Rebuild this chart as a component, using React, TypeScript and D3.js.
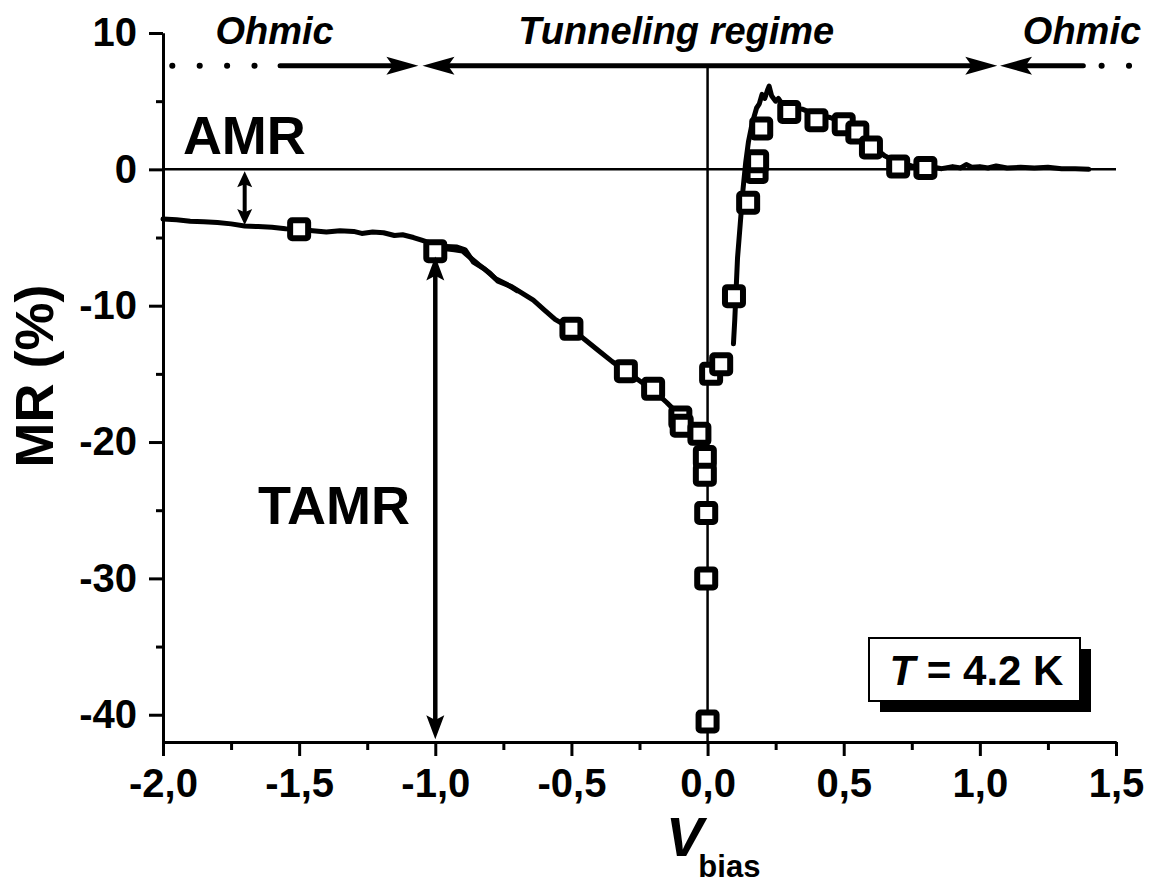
import React, { useEffect, useRef } from "react";
import * as d3 from "d3";

type Pt = [number, number];

// measured MR curve (V, MR %)
const sweepLeft: Pt[] = [
  [-2.0, -3.65], [-1.95, -3.7], [-1.9, -3.8], [-1.85, -3.85], [-1.8, -3.9],
  [-1.75, -4.0], [-1.7, -4.15], [-1.65, -4.2], [-1.6, -4.25], [-1.55, -4.35],
  [-1.5, -4.4], [-1.45, -4.5], [-1.4, -4.6], [-1.35, -4.5], [-1.3, -4.55],
  [-1.27, -4.7], [-1.23, -4.6], [-1.19, -4.65], [-1.15, -4.85], [-1.12, -4.8],
  [-1.08, -5.0], [-1.05, -5.2], [-1.02, -5.4], [-1.0, -5.6], [-0.97, -5.8],
  [-0.93, -5.9], [-0.9, -6.0], [-0.87, -6.5], [-0.84, -7.0], [-0.8, -7.6],
  [-0.77, -8.2], [-0.72, -8.6], [-0.68, -9.1], [-0.64, -9.6], [-0.6, -10.3],
  [-0.56, -11.0], [-0.5, -11.7], [-0.45, -12.5], [-0.4, -13.3], [-0.35, -14.1],
  [-0.3, -14.8], [-0.25, -15.5], [-0.2, -16.2], [-0.15, -17.1], [-0.1, -18.1],
  [-0.06, -18.8], [-0.03, -19.3],
];

const sweepLeftB: Pt[] = [
  [-1.0, -5.7], [-0.96, -5.65], [-0.92, -5.7], [-0.89, -5.9], [-0.86, -6.8],
  [-0.82, -7.3], [-0.78, -8.0], [-0.74, -8.4], [-0.7, -8.9],
];

const sweepRight: Pt[] = [
  [0.095, -12.8], [0.1, -11.0], [0.11, -6.5], [0.12, -4.0], [0.13, -1.5],
  [0.14, 0.5], [0.15, 2.0], [0.16, 3.0], [0.17, 3.8], [0.18, 4.5],
  [0.19, 4.8], [0.2, 5.5], [0.21, 5.2], [0.22, 5.8], [0.226, 6.1],
  [0.235, 5.4], [0.25, 5.0], [0.26, 5.2], [0.28, 4.6], [0.3, 4.5],
  [0.35, 4.4], [0.4, 4.0], [0.45, 3.8], [0.5, 3.4], [0.55, 2.7],
  [0.6, 1.8], [0.65, 1.0], [0.7, 0.5], [0.75, 0.25], [0.8, 0.1],
  [0.83, 0.15], [0.86, 0.05], [0.9, 0.2], [0.93, 0.1], [0.95, 0.35],
  [0.97, 0.15], [1.0, 0.2], [1.03, 0.1], [1.06, 0.25], [1.1, 0.1],
  [1.15, 0.15], [1.2, 0.1], [1.25, 0.15], [1.3, 0.05], [1.35, 0.05],
  [1.4, 0.0],
];

// square symbols
const markers: Pt[] = [
  [-1.5, -4.4], [-1.0, -6.0], [-0.5, -11.7], [-0.3, -14.8], [-0.2, -16.1],
  [-0.1, -18.2], [-0.095, -18.8], [-0.03, -19.4], [-0.01, -21.1], [-0.01, -22.4],
  [-0.005, -25.2], [-0.005, -30.0], [0.0, -40.5], [0.013, -15.0], [0.05, -14.3],
  [0.097, -9.3], [0.149, -2.45], [0.18, -0.2], [0.182, 0.6], [0.197, 3.0],
  [0.3, 4.2], [0.4, 3.6], [0.5, 3.3], [0.55, 2.7], [0.6, 1.6],
  [0.7, 0.2], [0.8, 0.1],
];

const xMajor = [-2.0, -1.5, -1.0, -0.5, 0.0, 0.5, 1.0, 1.5];
const xMinor = [-1.75, -1.25, -0.75, -0.25, 0.25, 0.75, 1.25];
const yMajor = [10, 0, -10, -20, -30, -40];
const yMinor = [5, -5, -15, -25, -35];

const FONT = "Arial, 'Liberation Sans', Helvetica, sans-serif";

export default function App() {
  const svgRef = useRef<SVGSVGElement | null>(null);

  useEffect(() => {
    const width = 1153;
    const height = 886;
    const svg = d3.select(svgRef.current);
    svg.selectAll("*").remove();

    const x = d3.scaleLinear().domain([-2.0, 1.5]).range([163, 1116]);
    const y = d3.scaleLinear().domain([-42, 10]).range([742, 33]);

    svg.attr("width", width).attr("height", height);

    // hyphen minus and decimal comma like the original plot
    const fmtX = (d: d3.NumberValue) => d3.format(".1f")(+d).replace("−", "-").replace(".", ",");
    const fmtY = (d: d3.NumberValue) => d3.format("d")(+d).replace("−", "-");

    // reference lines
    svg.append("line")
      .attr("x1", x(-2)).attr("x2", x(1.5))
      .attr("y1", y(0)).attr("y2", y(0))
      .attr("stroke", "#000").attr("stroke-width", 2.5);
    svg.append("line")
      .attr("x1", x(0)).attr("x2", x(0))
      .attr("y1", y(7.6)).attr("y2", y(-42))
      .attr("stroke", "#000").attr("stroke-width", 2.5);

    // axes
    const axisStyle = (g: d3.Selection<SVGGElement, unknown, null, undefined>) => {
      g.select(".domain").attr("stroke-width", 3);
      g.selectAll(".tick line").attr("stroke-width", 3);
      g.selectAll(".tick text")
        .attr("font-family", FONT)
        .attr("font-weight", "bold")
        .attr("font-size", 40)
        .attr("fill", "#000");
    };

    svg.append("g")
      .attr("transform", `translate(0,${y(-42)})`)
      .call(d3.axisBottom(x).tickValues(xMinor).tickSize(8).tickSizeOuter(0).tickFormat(() => ""))
      .call(axisStyle);
    svg.append("g")
      .attr("transform", `translate(0,${y(-42)})`)
      .call(d3.axisBottom(x).tickValues(xMajor).tickSize(14).tickSizeOuter(0).tickPadding(13).tickFormat(fmtX))
      .call(axisStyle);

    svg.append("g")
      .attr("transform", `translate(${x(-2)},0)`)
      .call(d3.axisLeft(y).tickValues(yMinor).tickSize(7).tickSizeOuter(0).tickFormat(() => ""))
      .call(axisStyle);
    svg.append("g")
      .attr("transform", `translate(${x(-2)},0)`)
      .call(d3.axisLeft(y).tickValues(yMajor).tickSize(14).tickSizeOuter(0).tickPadding(12).tickFormat(fmtY))
      .call(axisStyle);

    // data
    const line = d3.line<Pt>().x((d) => x(d[0])).y((d) => y(d[1]));
    [sweepLeft, sweepLeftB, sweepRight].forEach((s) => {
      svg.append("path")
        .datum(s)
        .attr("d", line)
        .attr("fill", "none")
        .attr("stroke", "#000")
        .attr("stroke-width", 5)
        .attr("stroke-linejoin", "round")
        .attr("stroke-linecap", "round");
    });

    const sq = 18;
    svg.append("g")
      .selectAll("rect")
      .data(markers)
      .join("rect")
      .attr("x", (d) => x(d[0]) - sq / 2)
      .attr("y", (d) => y(d[1]) - sq / 2)
      .attr("width", sq)
      .attr("height", sq)
      .attr("rx", 2)
      .attr("fill", "#fff")
      .attr("stroke", "#000")
      .attr("stroke-width", 6);

    // arrows
    const head = (tipX: number, tipY: number, dir: "l" | "r" | "u" | "d", len: number, half: number) => {
      let pts: Pt[] = [];
      if (dir === "r") pts = [[tipX, tipY], [tipX - len, tipY - half], [tipX - len * 0.8, tipY], [tipX - len, tipY + half]];
      if (dir === "l") pts = [[tipX, tipY], [tipX + len, tipY - half], [tipX + len * 0.8, tipY], [tipX + len, tipY + half]];
      if (dir === "d") pts = [[tipX, tipY], [tipX - half, tipY - len], [tipX, tipY - len * 0.8], [tipX + half, tipY - len]];
      if (dir === "u") pts = [[tipX, tipY], [tipX - half, tipY + len], [tipX, tipY + len * 0.8], [tipX + half, tipY + len]];
      svg.append("polygon").attr("points", pts.map((p) => p.join(",")).join(" ")).attr("fill", "#000");
    };
    const seg = (x1: number, y1: number, x2: number, y2: number, w: number, dash?: string) => {
      const l = svg.append("line")
        .attr("x1", x1).attr("y1", y1).attr("x2", x2).attr("y2", y2)
        .attr("stroke", "#000").attr("stroke-width", w).attr("stroke-linecap", "round");
      if (dash) l.attr("stroke-dasharray", dash);
    };

    const yTop = y(7.6);
    // left ohmic
    seg(x(-1.966), yTop, x(-1.64), yTop, 6, "0.1 27.3");
    seg(x(-1.57), yTop, x(-1.12), yTop, 5);
    head(x(-1.062), yTop, "r", 32, 9);
    // tunneling
    head(x(-1.047), yTop, "l", 32, 9);
    seg(x(-0.98), yTop, x(1.0), yTop, 5);
    head(x(1.064), yTop, "r", 32, 9);
    // right ohmic
    head(x(1.074), yTop, "l", 32, 9);
    seg(x(1.14), yTop, x(1.38), yTop, 5);
    seg(x(1.447), yTop, x(1.55), yTop, 6, "0.1 27.3");

    // AMR arrow
    seg(x(-1.7), y(-0.9), x(-1.7), y(-3.3), 4);
    head(x(-1.7), y(0) + 2, "u", 16, 7.5);
    head(x(-1.7), y(-4.15) - 1, "d", 16, 7.5);
    // TAMR arrow
    seg(x(-1.0), y(-7.6), x(-1.0), y(-40.4), 4.5);
    head(x(-1.0), y(-6.4), "u", 24, 9);
    head(x(-1.0), y(-41.8), "d", 24, 9);

    const txt = (s: string, tx: number, ty: number, size: number, anchor: string, italic = false) =>
      svg.append("text")
        .attr("x", tx).attr("y", ty)
        .attr("font-family", FONT)
        .attr("font-weight", "bold")
        .attr("font-style", italic ? "italic" : "normal")
        .attr("font-size", size)
        .attr("text-anchor", anchor)
        .attr("fill", "#000")
        .text(s);

    txt("Ohmic", x(-1.59), y(9.2), 38, "middle", true);
    txt("Tunneling regime", x(-0.115), y(9.2), 38, "middle", true);
    txt("Ohmic", x(1.375), y(9.2), 38, "middle", true);
    txt("AMR", x(-1.927), y(1.13), 54, "start");
    txt("TAMR", x(-1.651), y(-26.0), 54, "start");

    // T = 4.2 K box
    const bx = 869, by = 638, bw = 211, bh = 63;
    svg.append("rect").attr("x", bx + 11).attr("y", by + 11).attr("width", bw).attr("height", bh).attr("fill", "#000");
    svg.append("rect").attr("x", bx).attr("y", by).attr("width", bw).attr("height", bh)
      .attr("fill", "#fff").attr("stroke", "#000").attr("stroke-width", 2);
    const lt = svg.append("text")
      .attr("x", bx + bw / 2 + 2).attr("y", by + 47)
      .attr("font-family", FONT).attr("font-weight", "bold").attr("font-size", 42)
      .attr("text-anchor", "middle").attr("fill", "#000");
    lt.append("tspan").attr("font-style", "italic").text("T");
    lt.append("tspan").text(" = 4.2 K");

    // axis titles
    svg.append("text")
      .attr("transform", "translate(53,376) rotate(-90)")
      .attr("font-family", FONT).attr("font-weight", "bold").attr("font-size", 54)
      .attr("text-anchor", "middle").attr("fill", "#000")
      .text("MR (%)");
    const xt = svg.append("text")
      .attr("x", 666).attr("y", 856)
      .attr("font-family", FONT).attr("font-weight", "bold").attr("fill", "#000");
    xt.append("tspan").attr("font-size", 56).attr("font-style", "italic").text("V");
    xt.append("tspan").attr("font-size", 31).attr("dx", -5).attr("dy", 21).text("bias");
  }, []);

  return (
    <svg
      ref={svgRef}
      style={{ position: "absolute", left: 0, top: 0, background: "#fff" }}
    />
  );
}
